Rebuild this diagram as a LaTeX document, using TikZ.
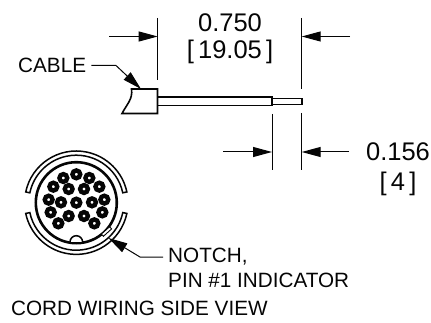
\documentclass[tikz,border=0pt]{standalone}
\usepackage{fontspec}
\setmainfont{Liberation Sans}
\usetikzlibrary{arrows.meta,positioning}
\definecolor{dwgblack}{RGB}{5,5,5}
\tikzstyle{label} = [inner sep=0pt, text=dwgblack, font=\fontsize{20.7}{23}\selectfont]
\tikzstyle{dimlabel} = [inner sep=0pt, text=dwgblack, font=\fontsize{25.5}{28}\selectfont]
\tikzstyle{extline} = [line width=1pt, dwgblack]
\tikzstyle{dimarrow} = [line width=1pt, dwgblack, -{Triangle[length=19pt,width=10pt]}]
\tikzstyle{outline} = [line width=1.6pt, dwgblack]
\tikzstyle{ring} = [line width=1.5pt, dwgblack]
\tikzstyle{pin} = [circle, draw=dwgblack, fill=white, line width=4.4pt, minimum size=7.8pt, inner sep=0pt]

\begin{document}
\begin{tikzpicture}[x=1pt, y=-1pt]
    \useasboundingbox (0, 0) rectangle (431, 323);

    % Dimension labels
    \node[dimlabel] (dimtop) at (230, 23) {0.750};
    \node[dimlabel] (dimtopmm) at (230, 52) {[\,19.05\,]};
    \node[dimlabel] (dimtip) at (398, 152) {0.156};
    \node[dimlabel] (dimtipmm) at (398, 184) {[\,4\,]};

    % Labels
    \node[label, anchor=west] (cable) at (18, 65.5) {CABLE};
    \node[label, anchor=west] (notch) at (168, 257) {NOTCH,};
    \node[label, anchor=west] (pinone) at (168, 280) {PIN \#1 INDICATOR};
    \node[label, anchor=west] (title) at (11, 308) {CORD WIRING SIDE VIEW};

    % Cable side view
    \draw[outline] (131.5, 89) -- (157.5, 89) -- (157.5, 113.5) -- (122, 113.5)
        .. controls (127, 104) and (133, 99) .. cycle;
    \draw[outline] (157.5, 97.3) rectangle (272, 105.7);
    \draw[outline] (272, 98.5) rectangle (302, 104.5);

    % Extension lines
    \coordinate (extA) at (157.7, 18);
    \coordinate (extB) at (157.7, 80);
    \coordinate (extC) at (301.7, 18);
    \coordinate (extD) at (301.7, 89);
    \coordinate (extE) at (272, 114);
    \coordinate (extF) at (272, 170);
    \coordinate (extG) at (301.7, 113);
    \coordinate (extH) at (301.7, 170);
    \draw[extline] (extA) -- (extB);
    \draw[extline] (extC) -- (extD);
    \draw[extline] (extE) -- (extF);
    \draw[extline] (extG) -- (extH);

    % Dimension arrows
    \coordinate (arrA) at (109, 36.5);
    \coordinate (arrB) at (350, 36.5);
    \coordinate (arrC) at (223, 152);
    \coordinate (arrD) at (349, 152);
    \draw[dimarrow] (arrA) -- (extA |- arrA);
    \draw[dimarrow] (arrB) -- (extC |- arrB);
    \draw[dimarrow] (arrC) -- (extE |- arrC);
    \draw[dimarrow] (arrD) -- (extG |- arrD);

    % Connector face
    \coordinate (face) at (76.3, 202.7);
    \draw[ring] ([shift={(192:51.7)}]face) arc[start angle=192, end angle=348, radius=51.7]
        -- ([shift={(348:47.5)}]face) arc[start angle=348, end angle=192, radius=47.5] -- cycle;
    \draw[ring] ([shift={(12:51.7)}]face) arc[start angle=12, end angle=168, radius=51.7]
        -- ([shift={(168:47.5)}]face) arc[start angle=168, end angle=12, radius=47.5] -- cycle;
    \draw[line width=2.6pt, dwgblack] (face) circle[radius=40.5];
    \draw[ring, fill=white] (70, 242) arc[start angle=180, end angle=360, radius=6.3];

    % Pins
    \foreach \px/\py in {199/73, 160/84, 238/84, 130/110, 176/117, 222/117, 268/110, 116/149, 153/157,
        199/158, 246/157, 283/149, 122/187, 176/198, 222/198, 277/187, 145/220, 253/220} {
        \node[pin] (pin\px) at ({\px/3+10}, {\py/3+150}) {};
    }

    % Notch mark
    \node[draw=dwgblack, fill=white, line width=0.9pt, minimum width=11pt, minimum height=3pt, inner sep=0pt, rotate=42] (mark) at (106.5, 231.5) {};

    % Leaders
    \coordinate (cablebend) at (116, 65.5);
    \coordinate (cabletip) at (141, 89);
    \draw[dimarrow] (cable.east) ++(5, 0) -- (cablebend) -- (cabletip);
    \coordinate (notchbend) at (140, 257);
    \coordinate (notchtip) at (108.5, 238);
    \draw[dimarrow] (notch.west) ++(-5, 0) -- (notchbend) -- (notchtip);
\end{tikzpicture}
\end{document}
